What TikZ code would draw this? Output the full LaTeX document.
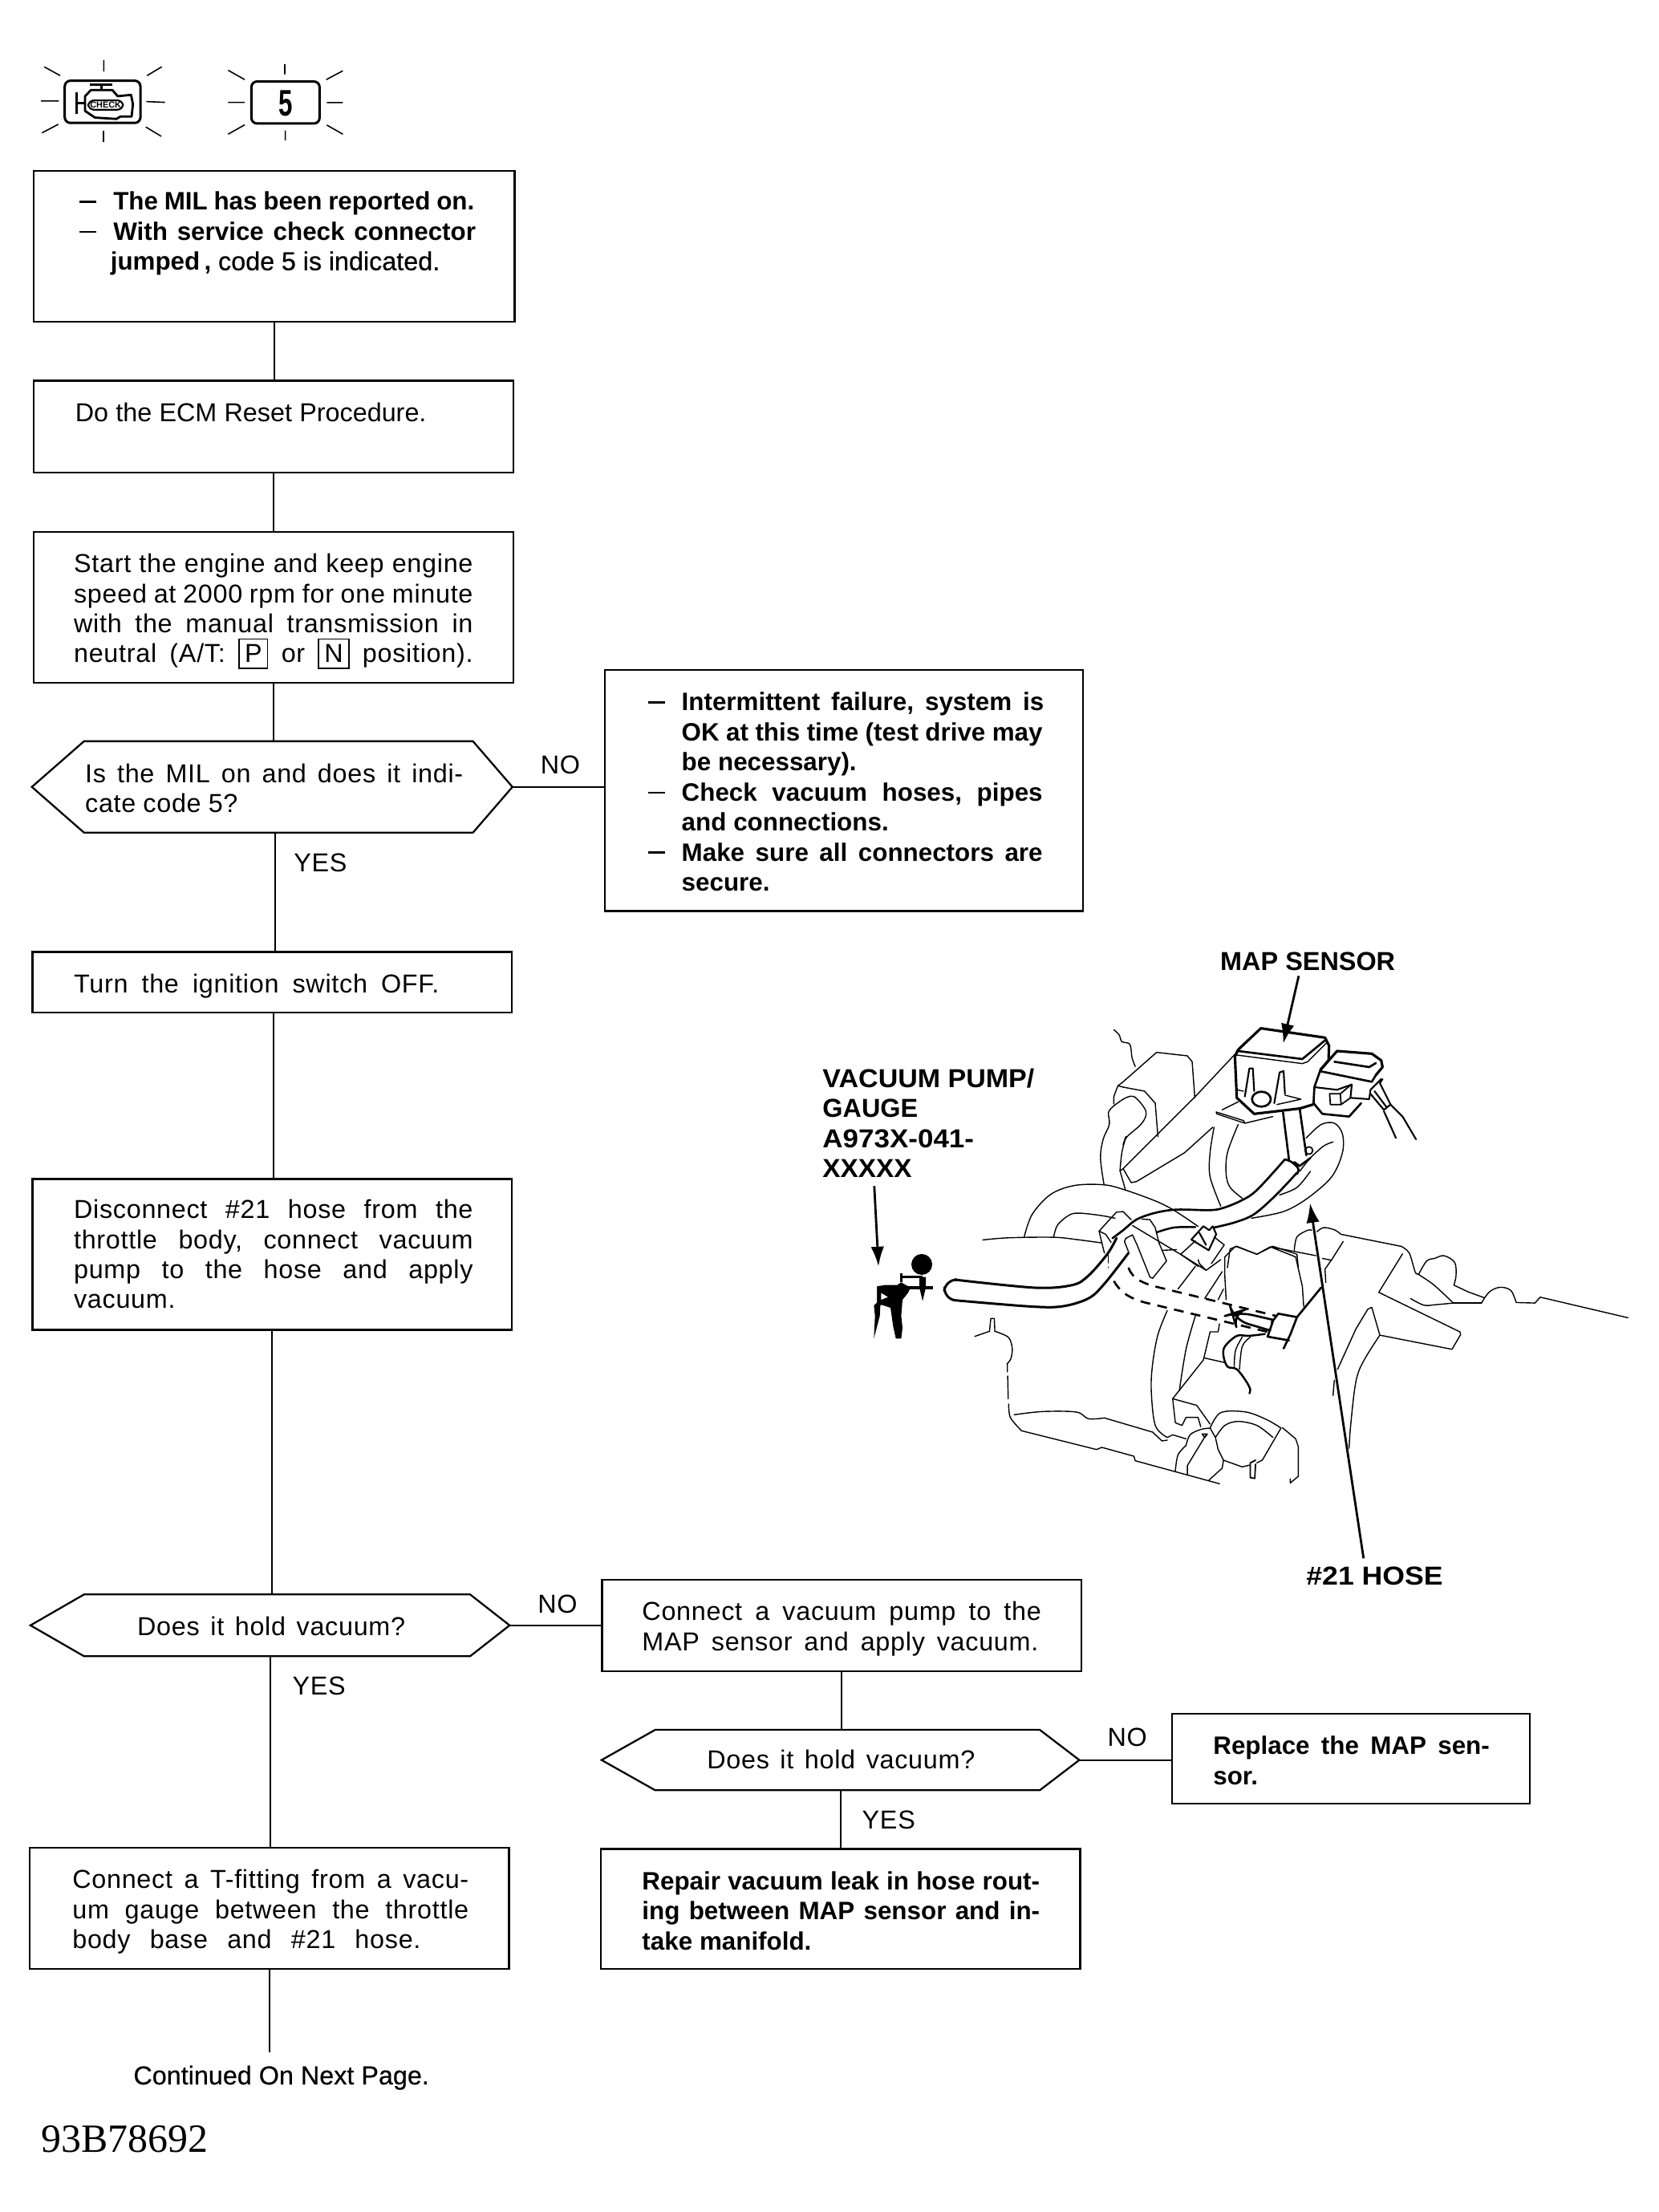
\documentclass[tikz,border=0pt]{standalone}
\usepackage{fontspec}
\setmainfont[LetterSpace=2.2,BoldFeatures={LetterSpace=0,Scale=0.97}]{Liberation Sans}
\newfontfamily\serifn{Liberation Serif}
\newfontfamily\plainf{Liberation Sans}
\newfontfamily\heavy[FakeBold=.5]{Liberation Sans}
\usetikzlibrary{arrows.meta,calc}
\newdimen\uu \uu=0.17577mm
\newcommand\tb[1]{\vtop{\frenchspacing\baselineskip=10.65pt \lineskiplimit=-100pt #1}}
\newcommand\jl[2]{\hbox to #1\uu{\spaceskip=.28em plus 1fil minus .12em #2}}
\newcommand\nl[1]{\hbox{\spaceskip=.28em plus .1em minus .05em #1}}
\newcommand\sxl[2]{\hbox{\scalebox{#1}[1]{#2}}}
\newcommand\dsh{\llap{\rule[2.6pt]{6pt}{0.7pt}\hspace{6pt}}}
\newcommand\kbx[1]{\smash{\fboxsep=1.8pt\fboxrule=.45pt\fbox{#1}}}
\newcommand\cv[2][thinl]{\draw[#1] plot[smooth,tension=.55] coordinates {#2};}
\newcommand\bx[6]{\node[boxs,minimum width=#4\uu,minimum height=#5\uu] (#1) at (#2,#3) {};}
\newcommand\hexn[6]{\node[inner sep=0pt,minimum width=#4\uu,minimum height=#5\uu] (#1) at (#2,#3) {};
  \draw[boxl] (#1.west) -- ([xshift=#6\uu]#1.north west) -- ([xshift=-28\uu]#1.north east) -- (#1.east) -- ([xshift=-28\uu]#1.south east) -- ([xshift=#6\uu]#1.south west) -- cycle;}
\tikzset{
  boxl/.style={line width=.65pt,line join=miter},
  boxs/.style={draw,line width=.65pt,inner sep=0pt},
  conn/.style={line width=.55pt},
  lbl/.style={anchor=base west,inner sep=0pt,yshift=-.5pt,font=\fontsize{9.2}{10.65}\selectfont},
  blbl/.style={lbl,font=\bfseries\fontsize{9.5}{10.65}\selectfont},
  thinl/.style={line width=.4pt,line join=round,line cap=round},
  thickl/.style={line width=.75pt,line join=round,line cap=round},
  dashl/.style={line width=.75pt,dash pattern=on 3.5pt off 2.6pt},
  ray/.style={line width=.45pt},
  pointer/.style={line width=.8pt,-{Latex[length=7pt,width=4.7pt]}}
}
\begin{document}
\begin{tikzpicture}[x=\uu,y=-\uu]
\useasboundingbox (0,0) rectangle (1176,1568.5);
% ---- icons
\begin{scope}[shift={(11.4,28.4)},scale=0.18964]
 \draw[ray] (105,100)--(165,133) (328,75)--(328,118) (545,100)--(490,133) (93,228)--(160,228)
   (487,230)--(557,233) (97,347)--(158,315) (327,340)--(327,382) (485,325)--(543,360);
 \draw[line width=.85pt,rounded corners=2pt] (182,152) rectangle (465,310);
 \draw[line width=.9pt] (226,195)--(226,275) (232,235)--(258,235) (275,166)--(360,166) (320,166)--(320,185);
 \draw[line width=.8pt,line join=round] (258,210)--(280,187)--(360,187)--(380,210)--(430,205)--(437,240)--(432,286)--(390,286)--(375,295)--(295,290)--(258,265)--cycle;
 \node[draw,line width=.6pt,rounded corners=2pt,inner sep=0pt,minimum width=130*0.18964\uu,minimum height=35*0.18964\uu,font=\bfseries\fontsize{3.2}{3.2}\selectfont] (chk) at (335,243) {CHECK};
 \draw[ray] (793,113)--(855,148) (1005,90)--(1005,128) (1222,115)--(1160,148) (793,233)--(855,233)
   (1162,234)--(1222,234) (793,352)--(855,317) (1007,338)--(1007,375) (1162,318)--(1222,352);
 \draw[line width=.85pt,rounded corners=2pt] (880,155) rectangle (1135,312);
 \node[inner sep=0pt,font=\bfseries\fontsize{13.5}{14}\selectfont] (five) at (1008,236) {\scalebox{.68}[1]{5}};
\end{scope}
% ---- boxes
\bx{b1}{194.5}{174.5}{341}{107}{}
\bx{b2}{194}{302.5}{340}{65}{}
\bx{b3}{194}{430.5}{340}{107}{}
\hexn{h1}{193}{558}{340}{64}{37}
\bx{nob}{598.5}{560.5}{339}{171}{}
\bx{b4}{193}{696.5}{340}{43}{}
\bx{b5}{193}{889.5}{340}{107}{}
\hexn{h2}{191.5}{1152.5}{339}{43}{38}
\bx{b6}{597}{1152.5}{340}{65}{}
\hexn{h3}{596}{1248}{338}{42}{38}
\bx{b7}{958}{1247}{254}{64}{}
\bx{b8}{191}{1353}{340}{86}{}
\bx{b9}{596}{1353.5}{340}{85}{}
% ---- box texts
\node[lbl] (t1) at (80,148) {\tb{\bfseries
  \jl{256}{\dsh The MIL has been reported on.}
  \jl{257}{\dsh With service check connector}
  \nl{\hspace{-1pt}jumped\,, {\heavy\mdseries code 5 is indicated.}}}};
\node[lbl] (t2) at (53,298) {\tb{\jl{249}{\plainf Do the ECM Reset Procedure.}}};
\node[lbl] (t3) at (52,405) {\tb{
  \jl{283}{Start the engine and keep engine}
  \jl{283}{speed at 2000 rpm for one minute}
  \jl{283}{with the manual transmission in}
  \jl{283}{neutral (A/T: \kbx{P} or \kbx{N} position).}}};
\node[lbl] (t4) at (60,554) {\tb{
  \jl{268}{Is the MIL on and does it indi-}
  \nl{cate code 5?}}};
\node[lbl] (t5) at (483,503) {\tb{\bfseries
  \jl{257}{\dsh Intermittent failure, system is}
  \jl{256}{OK at this time (test drive may}
  \nl{be necessary).}
  \jl{256}{\dsh Check vacuum hoses, pipes}
  \nl{and connections.}
  \jl{256}{\dsh Make sure all connectors are}
  \nl{secure.}}};
\node[lbl] (t6) at (52,703) {\tb{\jl{259}{Turn the ignition switch OFF.}}};
\node[lbl] (t7) at (52,863) {\tb{
  \jl{283}{Disconnect \#21 hose from the}
  \jl{283}{throttle body, connect vacuum}
  \jl{283}{pump to the hose and apply}
  \nl{vacuum.}}};
\node[lbl] (t8) at (97,1159) {\tb{\jl{190}{Does it hold vacuum?}}};
\node[lbl] (t9) at (455,1148) {\tb{
  \jl{283}{Connect a vacuum pump to the}
  \jl{281}{MAP sensor and apply vacuum.}}};
\node[lbl] (t10) at (501,1253) {\tb{\jl{190}{Does it hold vacuum?}}};
\node[lbl] (t11) at (860,1243) {\tb{\bfseries
  \jl{196}{Replace the MAP sen-}
  \nl{sor.}}};
\node[lbl] (t12) at (51,1338) {\tb{
  \jl{281}{Connect a T-fitting from a vacu-}
  \jl{281}{um gauge between the throttle}
  \jl{247}{body base and \#21 hose.}}};
\node[lbl] (t13) at (455,1339) {\tb{\bfseries
  \jl{282}{Repair vacuum leak in hose rout-}
  \jl{282}{ing between MAP sensor and in-}
  \nl{take manifold.}}};
\node[lbl,anchor=base,inner ysep=4.5pt,font=\heavy\fontsize{9.2}{10.65}\selectfont] (cont) at (199.5,1477) {Continued On Next Page.};
\node[anchor=base west,inner sep=0pt,font=\serifn\fontsize{14.2}{15}\selectfont] (code) at (29,1526) {93B78692};
% ---- yes/no
\node[lbl] (no1) at (383,548) {NO};
\node[lbl] (yes1) at (208,617) {YES};
\node[lbl] (no2) at (381,1143) {NO};
\node[lbl] (yes2) at (207,1201) {YES};
\node[lbl] (no3) at (785,1237) {NO};
\node[lbl] (yes3) at (611,1296) {YES};
% ---- connectors
\draw[conn] (b1.south) -- (b1.south |- b2.north);
\draw[conn] (b2.south) -- (b2.south |- b3.north);
\draw[conn] (b3.south) -- (b3.south |- h1.north);
\draw[conn] (h1.south) ++(2,0) -- (b4.north -| 195,0);
\draw[conn] (b4.south) ++(1,0) -- ($(b5.north)+(1,0)$);
\draw[conn] (b5.south) -- (b5.south |- h2.north);
\draw[conn] (h2.south) -- (h2.south |- b8.north);
\draw[conn] (b8.south) -- (b8.south |- cont.north);
\draw[conn] (h1.east) -- (h1.east -| nob.west);
\draw[conn] (h2.east) -- (h2.east -| b6.west);
\draw[conn] (b6.south) -- (b6.south |- h3.north);
\draw[conn] (h3.east) -- (h3.east -| b7.west);
\draw[conn] (h3.south) -- (h3.south |- b9.north);
% ---- illustration labels
\node[blbl] (mapl) at (865,687) {\tb{\jl{124}{MAP SENSOR}}};
\node[blbl] (vacl) at (583,770) {\tb{\sxl{1.05}{VACUUM PUMP/}\nl{GAUGE}\sxl{1.08}{A973X-041-}\sxl{1.03}{XXXXX}}};
\node[blbl] (hosel) at (926,1123) {\tb{\sxl{1.1}{\#21 HOSE}}};
\coordinate (mapa0) at (921,692); \coordinate (mapa1) at (910,740);
\coordinate (vaca0) at (620,841); \coordinate (vaca1) at (623,898);
\coordinate (hosa0) at (967,1105); \coordinate (hosa1) at (929,853);
% ---- frame around the sensor
\begin{scope}[shift={(796.5,728.2)},scale=0.18964]
 \draw[thickl,line width=.9pt] (430,85)--(515,5)--(755,40)--(770,70)--(768,125)--(738,160);
 \draw[thickl,line width=.9pt] (430,85)--(418,110)--(425,265)--(490,325)--(660,305)--(710,290);
 \draw[thickl] (430,90)--(670,120)--(755,50);
 \draw[thinl] (425,105)--(670,137)--(690,130)--(760,60);
 \draw[thickl,line width=.6pt] (455,260)--(472,155)--(485,155)--(490,240) (565,285)--(585,170)--(600,165)--(605,250);
 \draw[thickl] (517,270) ellipse (35 and 28);
 \draw[thinl] (425,235)--(450,240) (605,255)--(665,270)--(575,290);
 \draw[thinl] (348,318)--(450,350)--(455,360)--(350,325)--cycle (370,310)--(430,280) (455,360)--(560,335);
 \draw[thickl] (598,320)--(620,495) (660,305)--(685,480);
 % hose
 \cv[thickl]{(605,495) (500,610) (440,650) (370,678) (320,685) (200,683) (120,695) (50,720) (0,760) (-40,790)}
 \cv[thickl]{(650,545) (570,630) (490,700) (420,730) (340,750)}
 \cv[thickl,line width=.7pt]{(270,748) (190,750) (125,768)}
 \cv[thickl]{(605,495) (630,505) (655,530) (650,550)}
 \draw[thickl] (640,505)--(660,520)--(700,490);
 \draw[thickl,line width=.5pt] (695,462) circle (14);
 % rear hose
 \cv{(685,415) (740,365) (790,360) (820,400) (820,470) (780,560) (690,640) (600,690) (480,715)}
 \cv{(785,430) (750,445) (700,490) (660,540)}
 \cv{(585,628) (650,600) (700,540)}
 \cv{(340,375) (325,470) (325,560) (365,670)}
 \cv{(430,365) (390,470) (385,550) (400,600) (445,640)}
 % left shape
 \draw[thinl] (0,205)--(125,95)--(240,108)--(258,130)--(268,265);
 \draw[thinl] (420,100)--(270,260)--(0,530)--(30,582)--(50,578)--(230,470)--(335,375);
 \draw[thinl] (0,225)--(80,240)--(120,285)--(130,410);
 \cv{(0,270) (40,260) (85,315) (70,360) (15,410) (0,440)}
 % clamp
 \draw[thickl,line width=.6pt] (255,795)--(300,745)--(322,760)--(335,745)--(348,775)--(320,835)--cycle (285,770)--(310,815);
 \draw[thinl] (340,785)--(378,815)--(330,885) (215,850)--(270,800) (215,850)--(280,895);
 % connector
 \draw[thickl,line width=.9pt] (738,160)--(800,90)--(930,100)--(965,125)--(970,150)--(945,180);
 \draw[thickl] (738,160)--(715,225)--(712,285)--(745,325)--(845,335)--(890,285);
 \draw[thickl] (735,165)--(930,205)--(945,180) (790,130)--(920,150)--(945,135);
 \draw[thickl,line width=.6pt] (715,225)--(800,235)--(855,215)--(850,265)--(920,270)--(925,235)--(965,195);
 \draw[thinl,line width=.5pt] (772,250)--(812,250)--(815,290)--(775,290)--cycle (812,250)--(850,218) (815,290)--(850,265);
 \draw[thickl,line width=.6pt] (925,250)--(975,310)--(1000,290)--(960,210)--(970,195) (940,240)--(985,300);
 \draw[thickl,line width=.6pt] (975,315)--(1020,415) (1000,290)--(1045,335)--(1095,420);
 % below
 \cv{(640,835) (650,785) (690,760) (705,760)}
 \draw[thinl] (390,900)--(400,830)--(425,820)--(500,850)--(560,820)--(650,850)--(655,900);
\end{scope}
% ---- frame left of the sensor
\begin{scope}[shift={(762.4,722.5)},scale=0.18964]
 \cv{(145,40) (165,60) (175,85) (205,95) (213,145) (225,178)}
 \draw[thinl] (180,235)--(160,250)--(180,255) (160,250)--(145,290)--(145,318) (180,560)--(168,568)--(188,638);
 \cv{(180,300) (145,325) (125,350) (128,395) (105,450) (95,520) (108,618)}
 \cv{(180,470) (190,440) (175,500) (168,568)}
\end{scope}
% ---- frame left of the clamp
\begin{scope}[shift={(682.7,819.3)},scale=0.18964]
 \cv{(230,305) (260,220) (330,145) (420,112) (530,110) (610,130) (720,170) (790,205) (880,265)}
 \cv{(75,316) (170,308) (340,306) (430,315) (520,327)}
 \cv{(340,306) (355,260) (400,222) (440,216) (520,225) (570,235)}
 \draw[thinl] (510,283)--(575,212)--(600,210)--(630,240) (510,283)--(535,295)--(555,325) (510,283)--(520,325)--(530,365);
 \draw[thinl] (650,330)--(635,297)--(610,310)--(605,322)--(620,360);
 \draw[thinl] (735,330)--(720,270)--(700,240)--(670,238);
 \draw[thinl] (635,262)--(815,370) (745,355)--(800,352);
\end{scope}
% ---- frame around the hose end and lower body
\begin{scope}[shift={(654.3,881.8)},scale=0.18964]
 \cv[thickl,line width=.85pt]{(725,-20) (690,40) (620,120) (560,155) (420,165) (120,135)}
 \draw[thickl,line width=.85pt,rounded corners=4pt] (120,135)--(85,135)--(78,205)--(120,212);
 \cv[thickl,line width=.85pt]{(120,212) (400,235) (520,235) (620,205) (680,150) (770,35)}
 \draw[dashl] (770,90) .. controls (785,135) and (830,150) .. (880,163) -- (1320,270);
 \draw[dashl] (715,140) .. controls (745,190) and (780,205) .. (830,220) -- (1290,330);
 \draw[thinl,dash pattern=on 4pt off 1.5pt] (695,30)--(695,90);
 \draw[thickl,rounded corners=5pt] (1310,285)--(1180,255)--(1158,262)--(1165,285)--(1300,325);
 \draw[thickl] (1305,295)--(1330,262)--(1400,275)--(1490,165) (1310,290)--(1290,348)--(1370,362) (1400,275)--(1375,340)--(1350,392);
 \draw[thinl] (800,0)--(850,125)--(860,130)--(912,65)--(885,0);
 \draw[thinl] (965,40)--(1060,100)--(1115,60) (1030,60)--(1035,75)--(1060,100) (1130,120)--(1135,210);
 \draw[thinl] (1020,85)--(955,170) (1120,105)--(1055,205) (1125,170)--(1105,210);
 \draw[thinl] (1130,120)--(1130,50)--(1170,10)--(1250,40)--(1300,12)--(1395,50)--(1420,160)--(1425,235) (1300,12)--(1470,45);
 \cv{(915,250) (880,340) (860,450) (855,550) (870,680) (915,725)}
 \draw[thinl] (915,725)--(935,715)--(985,730);
 \cv{(1020,270) (985,395) (960,550)}
 \draw[thinl] (1110,300)--(1105,330)--(1075,330)--(1050,435)--(935,580)--(945,670)--(970,680)--(985,650)--(1030,650)--(1040,685);
 \draw[thinl] (935,580)--(1025,605)--(1075,675) (1055,428)--(1130,445);
 \cv[thickl,line width=.7pt]{(1280,338) (1220,345) (1175,345) (1130,385) (1125,420) (1140,460) (1175,470) (1210,515) (1225,545) (1222,560)}
 \cv{(1225,350) (1195,385) (1185,470)}
 \cv{(1195,350) (1170,400) (1165,465)}
 \cv{(195,347) (250,328)}
 \draw[thinl] (250,328)--(255,280)--(268,280)--(270,328);
 \cv{(270,328) (320,350) (335,390) (330,430) (315,450)}
 \draw[thinl] (317,450)--(317,480) (318,495)--(320,580);
 \cv{(322,600) (328,650) (370,700)}
 \draw[thinl] (370,700)--(650,770)--(670,762)--(790,795)--(795,812)--(1110,898);
 \cv{(342,640) (450,628) (575,630) (620,655) (680,652)}
 \draw[thinl] (680,652)--(860,705)--(895,738)--(915,735);
 \cv{(985,755) (1000,715) (1040,695) (1075,690)}
 \draw[thinl] (1075,690)--(1095,725)--(1105,770)--(1125,810)--(1120,840)--(1070,885);
 \cv{(985,755) (955,790) (945,850)}
 \draw[thinl] (1060,715)--(990,830)--(990,865) (1045,712)--(1065,712)--(1055,725)--cycle;
 \cv{(1075,690) (1115,632) (1210,630) (1290,660) (1340,690)}
 \cv{(1095,725) (1130,680) (1180,665) (1250,680) (1310,725)}
 \draw[thinl] (1345,688)--(1395,730)--(1405,760)--(1405,870)--(1375,895)--(1375,880) (1340,690)--(1270,810)--(1250,820);
 \draw[thinl,line width=.5pt] (1245,810)--(1225,820)--(1225,875)--(1242,878)--(1245,825);
 \draw[thinl] (1125,810)--(1195,835)--(1225,828);
\end{scope}
% ---- frame at the right-hand body
\begin{scope}[shift={(933.0,864.8)},scale=0.18964]
 \cv{(5,45) (30,30) (70,38) (95,55)}
 \draw[thinl] (95,55)--(320,100);
 \cv{(320,100) (350,125) (372,195) (385,205) (430,235) (460,260) (515,312)}
 \cv{(355,295) (405,320) (450,318) (515,312)}
 \draw[thickl,line width=.55pt] (515,312)--(620,312);
 \cv{(620,312) (650,270) (690,253) (730,265) (750,310)}
 \draw[thinl] (750,310)--(820,312)--(840,290)--(1168,367);
 \cv{(385,205) (415,155) (445,145) (480,135) (520,160) (525,210) (517,245)}
 \draw[thinl] (517,245)--(570,270)--(630,292);
 \draw[thinl] (325,128)--(236,272)--(540,420)--(542,430)--(510,485)--(240,432)--(210,328)--(195,335)--(150,410)--(82,560);
 \cv{(240,432) (190,510) (160,570) (145,640) (130,780) (125,855)}
 \draw[thinl] (103,82)--(60,150)--(35,185)--(38,235) (25,145)--(60,152) (70,600)--(65,658);
\end{scope}
% ---- vacuum pump
\begin{scope}[shift={(603.07,876.1)},scale=0.18964]
 \fill (267,108) circle (39);
 \fill (258,155)--(282,155)--(282,195)--(270,245)--(258,195)--cycle;
 \draw[line width=.9pt] (190,140)--(190,175) (190,155)--(270,155) (210,195)--(310,195);
 \fill (130,185)--(175,185)--(190,175)--(225,195)--(215,215)--(195,240)--(190,300)--(195,345)--(190,385)--(170,385)--(160,340)--(150,270)--(120,260)--(100,260)--(100,190)--cycle;
 \fill (100,190)--(115,200)--(110,300)--(88,385)--(92,300)--(88,262)--(100,250)--cycle;
 \fill[white] (115,215)--(140,230)--(115,240)--cycle;
\end{scope}
% ---- pointers
\draw[pointer] (mapa0) -- (mapa1);
\draw[pointer] (vaca0) -- (vaca1);
\draw[pointer] (hosa0) -- (hosa1);
\end{tikzpicture}
\end{document}
